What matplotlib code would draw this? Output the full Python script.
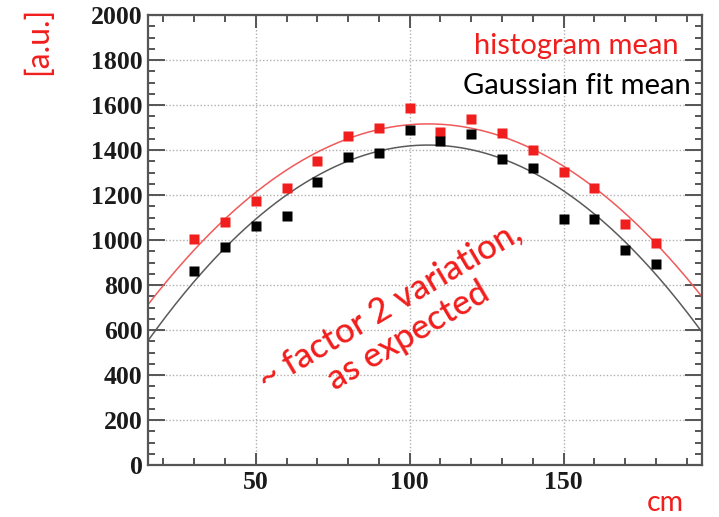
import numpy as np
import matplotlib
matplotlib.use('Agg')
import matplotlib.pyplot as plt
from matplotlib.ticker import MultipleLocator

# positions along the bar (cm)
positions = [30, 40, 50, 60, 70, 80, 90, 100, 110, 120, 130, 140, 150, 160, 170, 180]
hist_mean = [1005, 1081, 1173, 1232, 1351, 1462, 1496, 1585, 1481, 1536, 1477, 1400, 1304, 1232, 1071, 985]
gaus_mean = [864, 967, 1064, 1107, 1259, 1370, 1385, 1489, 1441, 1471, 1359, 1319, 1093, 1093, 956, 892]

# pol2 fit results, written as peak height, peak position, curvature
hist_fit = (1516, 106, 0.097)
gaus_fit = (1422, 106, 0.105)

red = (240/255, 30/255, 28/255)
fit_red = (240/255, 90/255, 90/255)
fit_black = (90/255, 90/255, 90/255)

fig = plt.figure(figsize=(7.19, 5.17), dpi=100)
ax = fig.add_axes([148/719, 52/517, 554/719, 450/517])

xs = np.linspace(15, 195, 300)
for (peak, mu, k), col in [(hist_fit, fit_red), (gaus_fit, fit_black)]:
    ax.plot(xs, peak - k*(xs - mu)**2, c=col, lw=1.1, zorder=2)

ax.plot(positions, hist_mean, 's', c=red, ms=7, mec='none', zorder=3)
ax.plot(positions, gaus_mean, 's', c='black', ms=7, mec='none', zorder=3)

ax.set_xlim(15, 195)
ax.set_ylim(0, 2000)
ax.xaxis.set_major_locator(MultipleLocator(50))
ax.xaxis.set_minor_locator(MultipleLocator(10))
ax.yaxis.set_major_locator(MultipleLocator(200))
ax.yaxis.set_minor_locator(MultipleLocator(50))
ax.grid(True, which='major', ls=(0, (1, 1.5)), c='#b0b0b0', lw=1)
ax.set_axisbelow(True)

for key, spine in ax.spines.items():
    spine.set_color('#555555')
    spine.set_linewidth(1.6)
ax.tick_params(which='both', direction='in', top=True, right=True, color='#555555', width=1.4)
ax.tick_params(axis='y', which='major', length=12)
ax.tick_params(axis='x', which='major', length=9)
ax.tick_params(which='minor', length=5)
ax.tick_params(axis='both', pad=4)
for lab in ax.get_xticklabels() + ax.get_yticklabels():
    lab.set_fontfamily('Liberation Serif')
    lab.set_fontweight('bold')
    lab.set_fontsize(18.5)
    lab.set_color('#1a1a1a')

sans = 'Lato'
fig.text(38/719, 1 - 41/517, '[a.u.]', color=red, family=sans, fontsize=23,
         rotation=90, ha='center', va='center')
fig.text(684/719, 1 - 503/517, 'cm', color=red, family=sans, fontsize=20.5,
         ha='right', va='center')
fig.text(679/719, 1 - 46/517, 'histogram mean', color=red, family=sans, fontsize=21,
         ha='right', va='center')
fig.text(691/719, 1 - 86/517, 'Gaussian fit mean', color='black', family=sans, fontsize=21,
         ha='right', va='center')
ax.text(96.5, 642, '~ factor 2 variation,\nas expected', color=red, family=sans, fontsize=25,
        fontweight='medium', rotation=30.5, rotation_mode='anchor', ha='center', va='center',
        multialignment='center', linespacing=1.15)

plt.savefig('out.png', dpi=100)
